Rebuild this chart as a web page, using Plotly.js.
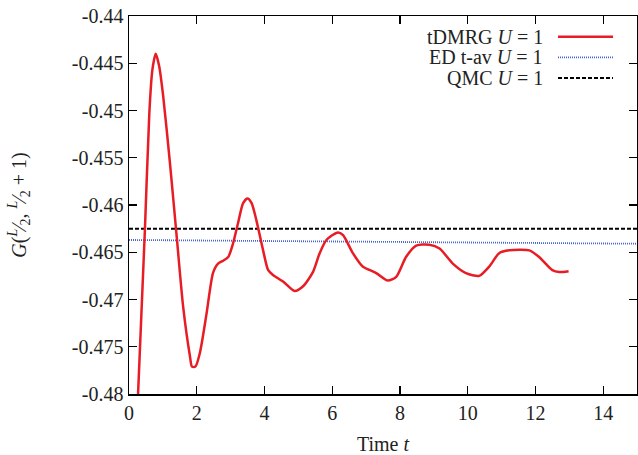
<!DOCTYPE html>
<html>
<head>
<meta charset="utf-8">
<script src="https://cdn.plot.ly/plotly-3.0.1.min.js"></script>
<style>html,body{margin:0;padding:0;background:#fff;}#chart{width:638px;height:455px;}</style>
</head>
<body>
<div id="chart"></div>
<script>
const tdmrgT = [0.25, 0.47, 0.60, 0.69, 0.79, 0.89, 1.01, 1.21, 1.41, 1.60, 1.80, 1.86, 1.96, 2.09, 2.29, 2.48, 2.63, 2.78, 2.93, 3.07, 3.22, 3.37, 3.50, 3.62, 3.76, 3.96, 4.11, 4.25, 4.55, 4.89, 5.14, 5.43, 5.63, 5.83, 6.17, 6.32, 6.61, 6.90, 7.30, 7.64, 7.89, 8.18, 8.48, 8.87, 9.17, 9.56, 9.95, 10.34, 10.64, 10.93, 11.23, 11.82, 12.11, 12.50, 12.70, 12.98];
const tdmrgG = [-0.4815, -0.4626, -0.4503, -0.4457, -0.4440, -0.4453, -0.4485, -0.4556, -0.4634, -0.4708, -0.4760, -0.4771, -0.4771, -0.4757, -0.4715, -0.4672, -0.4662, -0.4659, -0.4655, -0.4641, -0.4619, -0.4598, -0.4593, -0.4598, -0.4616, -0.4648, -0.4669, -0.4674, -0.4681, -0.4691, -0.4686, -0.4671, -0.4651, -0.4637, -0.4629, -0.4632, -0.4651, -0.4665, -0.4672, -0.4680, -0.4676, -0.4655, -0.4643, -0.4642, -0.4646, -0.4662, -0.4672, -0.4675, -0.4665, -0.4651, -0.4648, -0.4648, -0.4655, -0.4669, -0.4671, -0.4670];
const edT = [0, 15];
const edG = [-0.4637, -0.4641];
const qmcT = [0, 15];
const qmcG = [-0.4625, -0.4625];
const xTickVals = [0, 2, 4, 6, 8, 10, 12, 14];
const xTickText = ["0", "2", "4", "6", "8", "10", "12", "14"];
const yTickVals = [-0.48, -0.475, -0.47, -0.465, -0.46, -0.455, -0.45, -0.445, -0.44];
const yTickText = ["-0.48", "-0.475", "-0.47", "-0.465", "-0.46", "-0.455", "-0.45", "-0.445", "-0.44"];
const legendLabels = ["tDMRG <i>U</i> = 1", "ED t-av <i>U</i> = 1", "QMC <i>U</i> = 1"];

const FONT = "Liberation Serif, DejaVu Serif, serif";
const red = "rgb(232,28,36)";
const blue = "rgb(70,100,210)";
const black = "#000";

const traces = [
  {x: qmcT, y: qmcG, mode: "lines", line: {color: black, width: 2, dash: "4px,2px"}, showlegend: false, name: legendLabels[2]},
  {x: edT, y: edG, mode: "lines", line: {color: blue, width: 1.8, dash: "1px,1px"}, showlegend: false, name: legendLabels[1]},
  {x: tdmrgT, y: tdmrgG, mode: "lines", line: {color: red, width: 2.5, shape: "spline", smoothing: 0.7}, showlegend: false, name: legendLabels[0]}
];

const legColors = [red, blue, black];
const legDash = ["solid", "1px,1px", "4px,2px"];
const legWidth = [2.5, 1.8, 2];
const legY = [0.9452, 0.8907, 0.836];
const annotations = legendLabels.map((txt, i) => ({
  xref: "paper", yref: "paper", x: 0.819, y: legY[i], xanchor: "right", yanchor: "middle",
  text: txt, showarrow: false, font: {family: FONT, size: 20, color: "#222"}
}));
const shapes = legendLabels.map((txt, i) => ({
  type: "line", xref: "paper", yref: "paper", x0: 0.8445, x1: 0.9528, y0: legY[i], y1: legY[i],
  line: {color: legColors[i], width: legWidth[i], dash: legDash[i]}
}));

const layout = {
  width: 638, height: 455,
  margin: {l: 129, r: 1, t: 16, b: 61},
  paper_bgcolor: "#fff", plot_bgcolor: "#fff",
  font: {family: FONT, size: 20, color: "#222"},
  showlegend: false,
  xaxis: {
    range: [0, 15], tickvals: xTickVals, ticktext: xTickText,
    ticks: "inside", ticklen: 8, tickwidth: 1.2, tickcolor: "#000",
    showline: true, linecolor: "#000", linewidth: 1.5, mirror: "allticks",
    showgrid: false, zeroline: false,
    tickfont: {family: FONT, size: 20, color: "#222"},
    title: {text: "Time <i>t</i>", font: {family: FONT, size: 20, color: "#222"}, standoff: 14}
  },
  yaxis: {
    range: [-0.48, -0.44], tickvals: yTickVals, ticktext: yTickText,
    ticks: "inside", ticklen: 8, tickwidth: 1.2, tickcolor: "#000",
    showline: true, linecolor: "#000", linewidth: 1.5, mirror: "allticks",
    showgrid: false, zeroline: false,
    tickfont: {family: FONT, size: 20, color: "#222"},
    title: {text: "<i>G</i>(<sup><i>L</i></sup>⁄<sub>2</sub>, <sup><i>L</i></sup>⁄<sub>2</sub> + 1)", font: {family: FONT, size: 20, color: "#222"}, standoff: 40}
  },
  annotations: annotations,
  shapes: shapes
};

Plotly.newPlot("chart", traces, layout, {displayModeBar: false, staticPlot: true});
</script>
</body>
</html>
